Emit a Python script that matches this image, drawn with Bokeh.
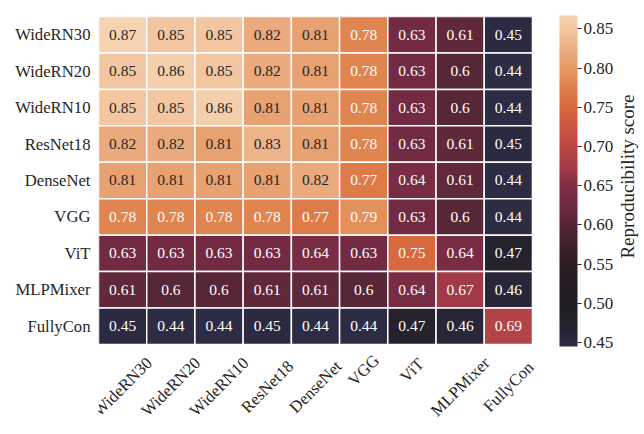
import numpy as np
from bokeh.plotting import figure
from bokeh.models import (ColumnDataSource, LinearColorMapper, ColorBar, FixedTicker,
                          Range1d, Label, PrintfTickFormatter)
from bokeh.transform import linear_cmap
from bokeh.core.properties import value
from bokeh.embed import file_html
from bokeh.resources import INLINE

# ---------------- data ----------------
models = ["WideRN30", "WideRN20", "WideRN10", "ResNet18", "DenseNet",
          "VGG", "ViT", "MLPMixer", "FullyCon"]

scores_wideRN30 = [0.87, 0.85, 0.85, 0.82, 0.81, 0.78, 0.63, 0.61, 0.45]
scores_wideRN20 = [0.85, 0.86, 0.85, 0.82, 0.81, 0.78, 0.63, 0.60, 0.44]
scores_wideRN10 = [0.85, 0.85, 0.86, 0.81, 0.81, 0.78, 0.63, 0.60, 0.44]
scores_resnet18 = [0.82, 0.82, 0.81, 0.83, 0.81, 0.78, 0.63, 0.61, 0.45]
scores_densenet = [0.81, 0.81, 0.81, 0.81, 0.82, 0.77, 0.64, 0.61, 0.44]
scores_vgg      = [0.78, 0.78, 0.78, 0.78, 0.77, 0.79, 0.63, 0.60, 0.44]
scores_vit      = [0.63, 0.63, 0.63, 0.63, 0.64, 0.63, 0.75, 0.64, 0.47]
scores_mlpmixer = [0.61, 0.60, 0.60, 0.61, 0.61, 0.60, 0.64, 0.67, 0.46]
scores_fullycon = [0.45, 0.44, 0.44, 0.45, 0.44, 0.44, 0.47, 0.46, 0.69]

score_rows = [scores_wideRN30, scores_wideRN20, scores_wideRN10, scores_resnet18,
              scores_densenet, scores_vgg, scores_vit, scores_mlpmixer, scores_fullycon]

score_min = 0.445
score_max = 0.867
cbar_ticks = [0.45, 0.50, 0.55, 0.60, 0.65, 0.70, 0.75, 0.80, 0.85]
cbar_title = "Reproducibility score"

# ---------------- colormap (style) ----------------
cmap_stops = [
    (0.445, "#2c2c45"), (0.47, "#25222d"), (0.50, "#1f1c21"), (0.55, "#2c1d23"),
    (0.60, "#562637"), (0.63, "#722b43"), (0.65, "#7f2e46"), (0.67, "#a03a47"),
    (0.70, "#bb4745"), (0.75, "#d8683e"), (0.78, "#e0844e"), (0.80, "#e69a64"),
    (0.82, "#eaa97c"), (0.85, "#f2c6a0"), (0.867, "#f6d4b2"),
]

def hex2rgb(h):
    return [int(h[i:i + 2], 16) for i in (1, 3, 5)]

stop_v = [s[0] for s in cmap_stops]
stop_c = np.array([hex2rgb(s[1]) for s in cmap_stops], dtype=float)
grid_v = np.linspace(score_min, score_max, 256)
rgb = np.stack([np.interp(grid_v, stop_v, stop_c[:, k]) for k in range(3)], axis=1)
palette = ["#%02x%02x%02x" % tuple(int(round(c)) for c in r) for r in rgb]

def text_color_for(v):
    idx = int(np.clip(round((v - score_min) / (score_max - score_min) * 255), 0, 255))
    r, g, b = [c / 255.0 for c in rgb[idx]]
    lin = [c / 12.92 if c <= 0.03928 else ((c + 0.055) / 1.055) ** 2.4 for c in (r, g, b)]
    lum = 0.2126 * lin[0] + 0.7152 * lin[1] + 0.0722 * lin[2]
    return "#262626" if lum > 0.408 else "white"

# ---------------- layout (pixels) ----------------
W, H = 644, 434
LEFT, TOP = 98, 16
CELL_W, CELL_H = 48.22, 36.44
n = len(models)
frame_w, frame_h = W - LEFT, H - TOP
x_end = frame_w / CELL_W
y_start = n - frame_h / CELL_H

# ---------------- sources ----------------
xs, ys, vals, labels, tcols = [], [], [], [], []
for ri, row in enumerate(score_rows):
    for ci, v in enumerate(row):
        xs.append(ci + 0.5)
        ys.append(n - ri - 0.5)
        vals.append(v)
        labels.append(f"{v:.2g}")
        tcols.append(text_color_for(v))
src = ColumnDataSource(dict(x=xs, y=ys, score=vals, label=labels, tcol=tcols))

FONT = "Liberation Serif"
TXT = "#262626"

p = figure(x_range=Range1d(0, x_end), y_range=Range1d(y_start, n),
           frame_width=frame_w, frame_height=frame_h,
           min_border_left=LEFT, min_border_top=TOP, min_border_right=0, min_border_bottom=0,
           output_backend="svg", toolbar_location=None,
           background_fill_color="white", border_fill_color="white")
p.outline_line_color = None
p.grid.visible = False
p.xaxis.visible = False

p.rect(x="x", y="y", width=1, height=1, source=src,
       fill_color=linear_cmap("score", palette, score_min, score_max),
       line_color="white", line_width=1.5)
p.text(x="x", y="y", text="label", source=src, text_color="tcol",
       text_font=value(FONT), text_font_size=value("15.5px"),
       text_align="center", text_baseline="middle")

# row labels on the left axis
ya = p.yaxis[0]
ya.ticker = FixedTicker(ticks=[n - i - 0.5 for i in range(n)])
ya.major_label_overrides = {n - i - 0.5: m for i, m in enumerate(models)}
ya.axis_line_color = None
ya.major_tick_line_color = None
ya.minor_tick_line_color = None
ya.major_tick_out = 0
ya.major_tick_in = 0
ya.minor_tick_out = 0
ya.minor_tick_in = 0
ya.major_label_standoff = 8
ya.major_label_text_font = FONT
ya.major_label_text_font_size = "16.7px"
ya.major_label_text_color = TXT

# rotated column labels, centred under each column (matplotlib ha='center')
xl_x = [i + 0.5 for i in range(n)]
xl_y = [-(10 + (len(m) * 9.3 + 17) * 0.354) / CELL_H for m in models]
xsrc = ColumnDataSource(dict(x=xl_x, y=xl_y, text=models))
p.text(x="x", y="y", text="text", source=xsrc, angle=45, angle_units="deg",
       text_align="center", text_baseline="middle",
       text_font=value(FONT), text_font_size=value("16.7px"), text_color=TXT)

mapper = LinearColorMapper(palette=palette, low=score_min, high=score_max)
cb = ColorBar(color_mapper=mapper, ticker=FixedTicker(ticks=cbar_ticks),
              formatter=PrintfTickFormatter(format="%.2f"),
              width=18, height=331, location=(461, 88), margin=0, padding=0,
              bar_line_color=None, major_tick_out=4, major_tick_in=0,
              major_tick_line_color=TXT, minor_tick_line_color=None,
              label_standoff=2,
              major_label_text_font=FONT, major_label_text_font_size="17px",
              major_label_text_color=TXT, background_fill_color=None,
              border_line_color=None)
p.add_layout(cb)

p.add_layout(Label(x=529, y=258, x_units="screen", y_units="screen",
                   angle=90, angle_units="deg", text=cbar_title,
                   text_align="center", text_baseline="middle",
                   text_font=FONT, text_font_size="19px", text_color=TXT))

open("out.html", "w").write(file_html(p, INLINE))
